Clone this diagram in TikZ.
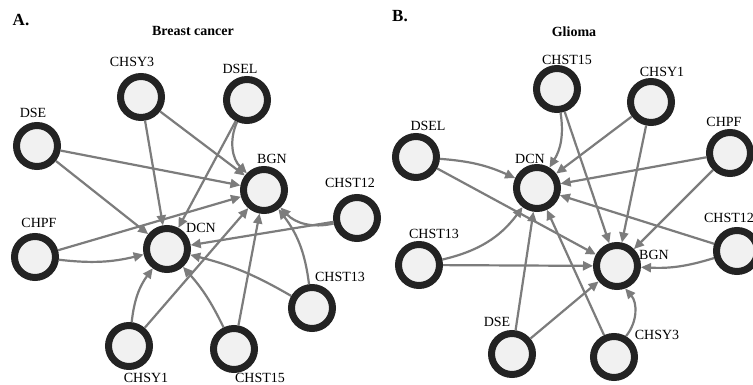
\documentclass[tikz,border=0pt]{standalone}
\usepackage{fontspec}
\setmainfont{Liberation Serif}
\usetikzlibrary{arrows.meta}
\definecolor{ring}{HTML}{232323}
\definecolor{core}{HTML}{F1F1F1}
\definecolor{link}{HTML}{7C7C7C}

\begin{document}
\begin{tikzpicture}[
    x=1pt, y=1pt,
    gene/.style={circle, draw=ring, fill=core, line width=7pt, minimum size=41pt, inner sep=0pt},
    lbl/.style={font=\fontsize{14}{14}\selectfont, inner sep=0pt},
    ttl/.style={font=\bfseries\fontsize{14}{14}\selectfont, inner sep=0pt},
    tag/.style={font=\bfseries\fontsize{17}{17}\selectfont, inner sep=0pt},
    arr/.style={-{Triangle[length=10pt, width=9pt]}, link, line width=2.2pt},
  ]
    \useasboundingbox[fill=white] (0,0) rectangle (753,385);
    \clip (0,0) rectangle (753,385);

    % A. Breast cancer
    \node[tag] (atag) at (21,365) {A.};
    \node[ttl] (attl) at (193,354) {Breast cancer};
    \node[gene] (achsy3)  at (141,288) {};  \node[lbl] (achsy3-t)  at (132,323) {CHSY3};
    \node[gene] (adsel)   at (247,285) {};  \node[lbl] (adsel-t)   at (240,316) {DSEL};
    \node[gene] (adse)    at (37,239)  {};  \node[lbl] (adse-t)    at (33,272)  {DSE};
    \node[gene] (abgn)    at (264,195) {};  \node[lbl] (abgn-t)    at (272,226) {BGN};
    \node[gene] (achst12) at (357,167) {};  \node[lbl] (achst12-t) at (350,202) {CHST12};
    \node[gene] (achpf)   at (35,128)  {};  \node[lbl] (achpf-t)   at (39,162)  {CHPF};
    \node[gene] (adcn)    at (167,136) {};  \node[lbl] (adcn-t)    at (201,157) {DCN};
    \node[gene] (achst13) at (312,77)  {};  \node[lbl] (achst13-t) at (340,108) {CHST13};
    \node[gene] (achsy1)  at (129,39)  {};  \node[lbl] (achsy1-t)  at (146,7)   {CHSY1};
    \node[gene] (achst15) at (234,36)  {};  \node[lbl] (achst15-t) at (260,7)   {CHST15};
    \draw[arr] (adse) -- (abgn); \draw[arr] (adse) -- (adcn);
    \draw[arr] (achsy3) -- (abgn); \draw[arr] (achsy3) -- (adcn);
    \draw[arr] (adsel) to[bend right=35] (abgn); \draw[arr] (adsel) -- (adcn);
    \draw[arr] (achpf) -- (abgn); \draw[arr] (achpf) to[bend right=10] (adcn);
    \draw[arr] (achst12) to[bend left=30] (abgn); \draw[arr] (achst12) -- (adcn);
    \draw[arr] (achst13) to[bend right=15] (abgn); \draw[arr] (achst13) to[bend right=8] (adcn);
    \draw[arr] (achsy1) -- (abgn); \draw[arr] (achsy1) to[bend left=15] (adcn);
    \draw[arr] (achst15) -- (abgn); \draw[arr] (achst15) to[bend right=8] (adcn);

    % B. Glioma
    \node[tag] (btag) at (400,369) {B.};
    \node[ttl] (bttl) at (574,353) {Glioma};
    \node[gene] (bchst15) at (557,296) {};  \node[lbl] (bchst15-t) at (567,325) {CHST15};
    \node[gene] (bchsy1)  at (651,283) {};  \node[lbl] (bchsy1-t)  at (662,313) {CHSY1};
    \node[gene] (bchpf)   at (730,232) {};  \node[lbl] (bchpf-t)   at (724,263) {CHPF};
    \node[gene] (bdsel)   at (416,228) {};  \node[lbl] (bdsel-t)   at (428,259) {DSEL};
    \node[gene] (bdcn)    at (537,197) {};  \node[lbl] (bdcn-t)    at (530,226) {DCN};
    \node[gene] (bchst13) at (419,120) {};  \node[lbl] (bchst13-t) at (434,151) {CHST13};
    \node[gene] (bbgn)    at (617,119) {};  \node[lbl] (bbgn-t)    at (654,130) {BGN};
    \node[gene] (bchst12) at (737,134) {};  \node[lbl] (bchst12-t) at (729,167) {CHST12};
    \node[gene] (bdse)    at (512,31)  {};  \node[lbl] (bdse-t)    at (497,63)  {DSE};
    \node[gene] (bchsy3)  at (614,28)  {};  \node[lbl] (bchsy3-t)  at (657,50)  {CHSY3};
    \draw[arr] (bchst15) to[bend left=20] (bdcn); \draw[arr] (bchst15) -- (bbgn);
    \draw[arr] (bchsy1) -- (bdcn); \draw[arr] (bchsy1) -- (bbgn);
    \draw[arr] (bchpf) -- (bdcn); \draw[arr] (bchpf) -- (bbgn);
    \draw[arr] (bdsel) to[bend left=10] (bdcn); \draw[arr] (bdsel) -- (bbgn);
    \draw[arr] (bchst13) to[bend right=20] (bdcn); \draw[arr] (bchst13) -- (bbgn);
    \draw[arr] (bchst12) -- (bdcn); \draw[arr] (bchst12) to[bend left=10] (bbgn);
    \draw[arr] (bdse) -- (bdcn); \draw[arr] (bdse) -- (bbgn);
    \draw[arr] (bchsy3) -- (bdcn); \draw[arr] (bchsy3.60) to[bend right=40] (bbgn.-70);
\end{tikzpicture}
\end{document}
